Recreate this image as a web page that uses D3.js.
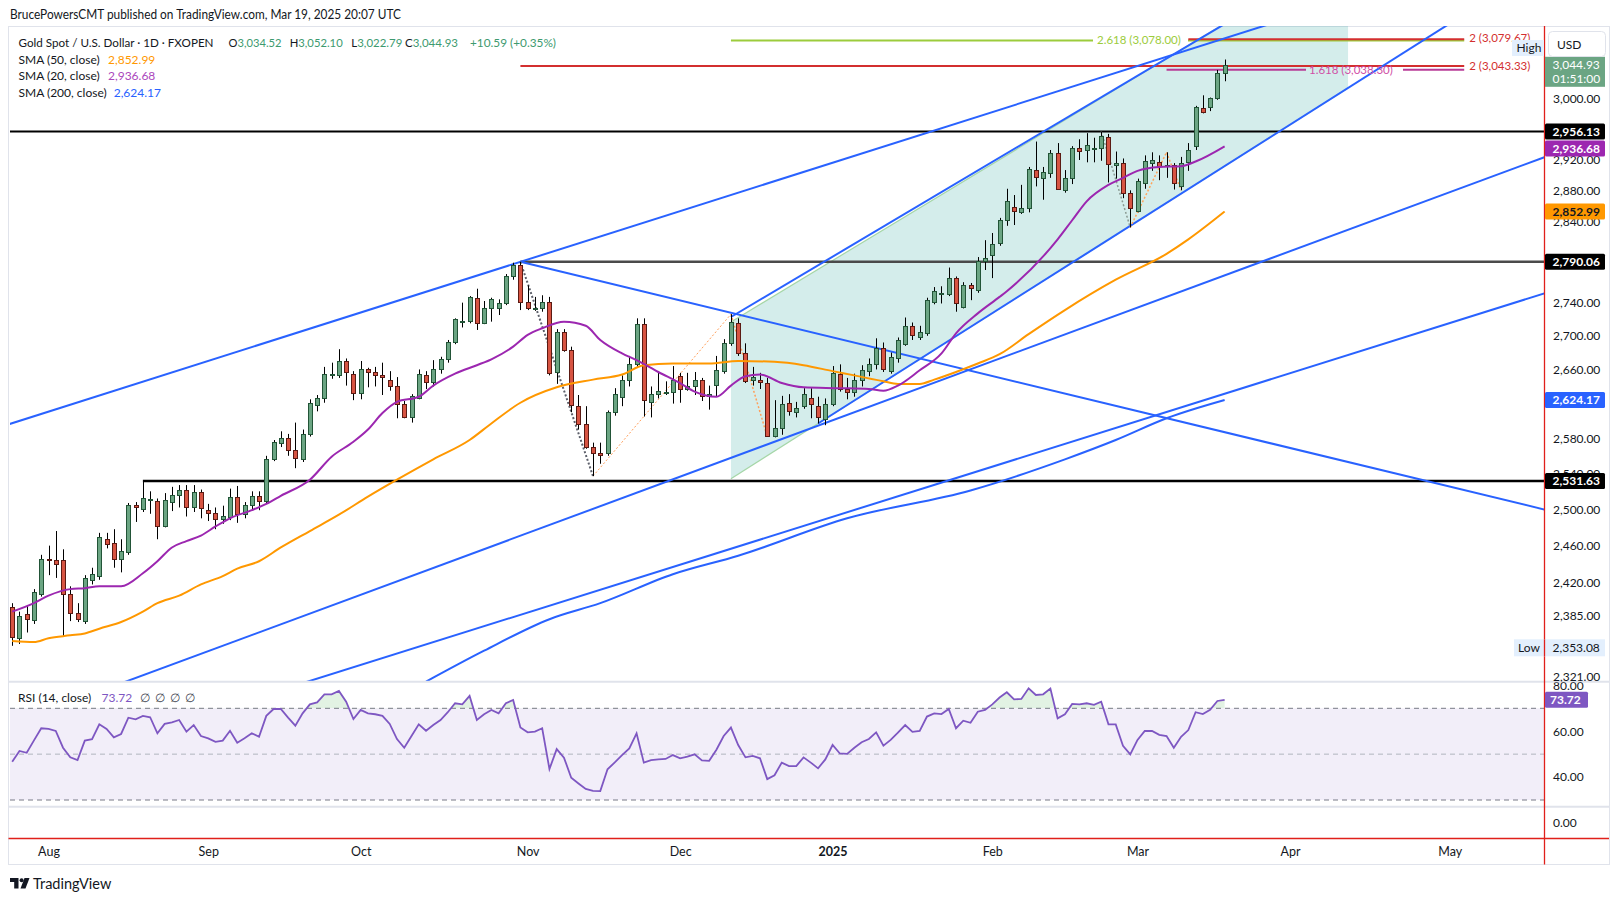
<!DOCTYPE html>
<html><head><meta charset="utf-8">
<script src="https://cdnjs.cloudflare.com/ajax/libs/d3/7.8.5/d3.min.js"></script>
<style>
html,body{margin:0;padding:0;background:#fff;}
svg{display:block;}
text{font-family:Lato,"Liberation Sans",Arial,sans-serif;}
</style></head><body>
<svg id="chart" width="1620" height="901"></svg>
<script>
// ---------------- DATA ----------------
const dates = [
"2024-07-25","2024-07-26","2024-07-29","2024-07-30","2024-07-31",
"2024-08-01","2024-08-02","2024-08-05","2024-08-06","2024-08-07","2024-08-08","2024-08-09","2024-08-12","2024-08-13","2024-08-14","2024-08-15","2024-08-16","2024-08-19","2024-08-20","2024-08-21","2024-08-22","2024-08-23","2024-08-26","2024-08-27","2024-08-28","2024-08-29","2024-08-30",
"2024-09-02","2024-09-03","2024-09-04","2024-09-05","2024-09-06","2024-09-09","2024-09-10","2024-09-11","2024-09-12","2024-09-13","2024-09-16","2024-09-17","2024-09-18","2024-09-19","2024-09-20","2024-09-23","2024-09-24","2024-09-25","2024-09-26","2024-09-27","2024-09-30",
"2024-10-01","2024-10-02","2024-10-03","2024-10-04","2024-10-07","2024-10-08","2024-10-09","2024-10-10","2024-10-11","2024-10-14","2024-10-15","2024-10-16","2024-10-17","2024-10-18","2024-10-21","2024-10-22","2024-10-23","2024-10-24","2024-10-25","2024-10-28","2024-10-29","2024-10-30","2024-10-31",
"2024-11-01","2024-11-04","2024-11-05","2024-11-06","2024-11-07","2024-11-08","2024-11-11","2024-11-12","2024-11-13","2024-11-14","2024-11-15","2024-11-18","2024-11-19","2024-11-20","2024-11-21","2024-11-22","2024-11-25","2024-11-26","2024-11-27","2024-11-28","2024-11-29",
"2024-12-02","2024-12-03","2024-12-04","2024-12-05","2024-12-06","2024-12-09","2024-12-10","2024-12-11","2024-12-12","2024-12-13","2024-12-16","2024-12-17","2024-12-18","2024-12-19","2024-12-20","2024-12-23","2024-12-24","2024-12-26","2024-12-27","2024-12-30","2024-12-31",
"2025-01-02","2025-01-03","2025-01-06","2025-01-07","2025-01-08","2025-01-09","2025-01-10","2025-01-13","2025-01-14","2025-01-15","2025-01-16","2025-01-17","2025-01-20","2025-01-21","2025-01-22","2025-01-23","2025-01-24","2025-01-27","2025-01-28","2025-01-29","2025-01-30","2025-01-31",
"2025-02-03","2025-02-04","2025-02-05","2025-02-06","2025-02-07","2025-02-10","2025-02-11","2025-02-12","2025-02-13","2025-02-14","2025-02-17","2025-02-18","2025-02-19","2025-02-20","2025-02-21","2025-02-24","2025-02-25","2025-02-26","2025-02-27","2025-02-28",
"2025-03-03","2025-03-04","2025-03-05","2025-03-06","2025-03-07","2025-03-10","2025-03-11","2025-03-12","2025-03-13","2025-03-14","2025-03-17","2025-03-18","2025-03-19"
];
const open = [
2394,2361,2386,2380,2408,
2445,2444,2444,2408,2388,2379,2423,2427,2467,2463,2445,2453,2505,2500,2511,2509,2482,2508,2516,2522,2503,2519,
2499,2496,2489,2492,2514,2495,2505,2515,2509,2556,2575,2580,2567,2556,2585,2618,2626,2655,2654,2670,2655,
2632,2661,2657,2654,2648,2640,2619,2604,2627,2653,2645,2660,2672,2692,2718,2718,2746,2715,2734,2734,2739,2773,2786,
2741,2732,2734,2741,2657,2704,2683,2617,2596,2570,2563,2563,2610,2628,2647,2667,2714,2622,2631,2634,2633,
2652,2637,2640,2647,2629,2642,2658,2691,2715,2679,2648,2648,2644,2583,2592,2621,2610,2617,2627,2617,2602,
2620,2655,2637,2634,2647,2658,2666,2685,2658,2673,2690,2712,2699,2703,2741,2752,2751,2770,2735,2761,2755,2791,
2799,2813,2842,2859,2852,2857,2906,2896,2902,2928,2880,2896,2934,2932,2935,2934,2949,2912,2915,2876,
2854,2890,2915,2917,2911,2912,2885,2917,2937,2987,2988,3000,3034.52
];
const high = [
2398,2389,2395,2413,2450,
2460,2476,2456,2416,2398,2428,2436,2474,2474,2478,2467,2507,2508,2531.63,2520,2512,2518,2525,2527,2527,2527,2522,
2506,2502,2504,2523,2526,2508,2520,2520,2560,2578,2588,2585,2598,2590,2625,2630,2663,2668,2684,2673,2658,
2670,2662,2663,2668,2658,2651,2623,2631,2660,2658,2671,2675,2695,2721,2740,2748,2757,2742,2746,2744,2775,2789,2790.06,
2761,2747,2749,2747,2708,2708,2687,2630,2617,2575,2575,2612,2638,2653,2676,2721,2721,2640,2656,2646,2664,
2656,2656,2657,2650,2641,2676,2696,2726,2721,2691,2663,2656,2650,2624,2629,2631,2622,2638,2638,2628,2626,
2664,2666,2650,2655,2665,2673,2697,2692,2680,2698,2722,2716,2712,2746,2759,2760,2783,2772,2765,2764,2796,2817,
2826,2845,2882,2874,2887,2910,2943,2910,2932,2941,2906,2937,2946,2954,2948,2956.13,2953,2930,2921,2880,
2895,2925,2929,2925,2929,2915,2923,2941,2990,3004,3001,3038,3052.10
];
const low = [
2353.08,2355,2367,2376,2405,
2428,2425,2363,2379,2378,2376,2418,2423,2457,2436,2431,2450,2486,2497,2495,2467,2480,2498,2502,2492,2497,2490,
2487,2478,2484,2488,2485,2490,2500,2499,2506,2554,2570,2560,2546,2553,2582,2611,2621,2649,2650,2641,2624,
2625,2639,2640,2630,2635,2603,2603,2598,2625,2637,2640,2655,2668,2690,2710,2715,2707,2714,2717,2725,2737,2768,2731,
2731,2730,2729,2653,2643,2681,2610,2590,2568,2537,2551,2560,2606,2617,2640,2662,2605,2604,2626,2630,2620,
2621,2635,2630,2623,2613,2628,2655,2688,2676,2644,2641,2637,2582,2581,2584,2606,2604,2614,2603,2597,2595,
2617,2634,2625,2628,2640,2652,2660,2657,2655,2668,2688,2695,2695,2700,2738,2739,2748,2729,2733,2743,2752,2780,
2770,2810,2835,2836,2850,2852,2885,2868,2896,2881,2877,2888,2919,2916,2916,2918,2890,2895,2870,2833,
2852,2882,2905,2893,2896,2881,2880,2905,2932,2980,2983,2998,3022.79
];
const close = [
2362,2384,2381,2410,2445,
2444,2440,2408,2388,2381,2425,2429,2469,2462,2446,2454,2505,2502,2512,2511,2482,2510,2516,2522,2502,2519,2501,
2496,2489,2493,2514,2495,2505,2515,2509,2556,2576,2580,2567,2557,2585,2621,2626,2655,2655,2670,2657,2632,
2661,2657,2654,2651,2640,2620,2604,2629,2655,2645,2661,2672,2692,2720,2718,2747,2715,2734,2745,2740,2773,2786,2741,
2734,2734,2741,2656,2704,2683,2618,2596,2570,2563,2561,2610,2631,2648,2667,2714,2624,2631,2635,2634,2648,
2637,2641,2648,2629,2631,2659,2691,2717,2679,2646,2651,2645,2583,2592,2620,2611,2615,2631,2619,2604,2620,
2656,2637,2634,2647,2659,2667,2686,2661,2675,2695,2712,2701,2704,2743,2754,2752,2770,2739,2761,2758,2791,2795,
2812,2842,2866,2854,2858,2908,2897,2904,2928,2882,2896,2934,2931,2938,2935,2950,2914,2915,2877,2857,
2892,2918,2919,2911,2912,2889,2915,2932,2988,2982,3000,3034,3044.93
];
const rsi = [
46.7,51.4,50.6,56,61.3,61,60.1,52.8,48.6,47.4,
55.9,56.5,63,61,57.3,58.8,65.9,65.2,66.7,66.1,
59.1,63.2,63.9,64.9,59.8,62.7,57.9,56.9,55.4,55.9,
60.2,55,56.9,59.1,57.6,66.7,69.7,69.7,65.9,62.4,
67.8,71.7,72.6,76.1,76.1,77.6,72.9,65.3,69.3,67.8,
67.4,66.7,63.2,56.6,52.8,57.9,63,60.2,62.7,64.9,
68.3,72.2,71.7,75.4,64.9,67.4,69.3,67.8,72.2,73.6,
61.6,59.5,59.8,61.3,43.5,52.2,48.5,39.7,37.2,34.8,
34,33.9,43.4,46.4,49.6,52.5,59.1,46.3,47.4,47.7,
47.9,49.6,48.2,48.9,49.9,47.3,47.1,51.9,57.9,61.6,
54,48.6,49.2,48.2,39.1,40.8,46.3,44.8,44.8,48.6,
46.3,43.8,47.7,54,50.3,50.1,52.8,55.2,56.6,59.5,
53.7,56.2,59.4,62.7,59.7,60.1,66.4,67.8,67.5,69.7,
61.3,64.6,63.7,68.5,69.3,71.7,74.7,77,73.9,74.1,
78.7,75.8,76.1,78.6,65.6,67.4,71.9,71.7,72.2,71.5,
72.9,63,63,53.6,49.9,56.2,60.1,60.1,58.4,57.9,
52.8,57.6,60.5,68.3,67.5,69.3,73.2,73.72
];
const sma20 = [
["2024-07-25",2389],["2024-07-30",2398],["2024-08-01",2406],["2024-08-06",2413],["2024-08-08",2414],["2024-08-12",2416],["2024-08-15",2416],["2024-08-20",2430],["2024-08-22",2443],["2024-08-26",2458],["2024-08-28",2465],["2024-08-30",2471],["2024-09-03",2481],["2024-09-05",2490],["2024-09-10",2499],["2024-09-12",2506],["2024-09-16",2515],["2024-09-20",2533],["2024-09-25",2559],["2024-09-30",2576],["2024-10-02",2590],["2024-10-04",2609],["2024-10-08",2622],["2024-10-11",2628],["2024-10-15",2641],["2024-10-18",2655],["2024-10-23",2665],["2024-10-25",2672],["2024-10-30",2687],["2024-11-01",2701],["2024-11-05",2709],["2024-11-08",2717],["2024-11-13",2712],["2024-11-15",2695],["2024-11-20",2679],["2024-11-22",2671],["2024-11-27",2657],["2024-12-02",2644],["2024-12-04",2634],["2024-12-09",2628],["2024-12-11",2641],["2024-12-13",2652],["2024-12-17",2654],["2024-12-20",2644],["2024-12-26",2639],["2025-01-03",2638],["2025-01-09",2637],["2025-01-13",2635],["2025-01-15",2641],["2025-01-20",2659],["2025-01-23",2679],["2025-01-27",2703],["2025-01-30",2727],["2025-02-04",2747],["2025-02-05",2754],["2025-02-14",2818],["2025-02-18",2842],["2025-02-20",2866],["2025-02-25",2887],["2025-02-27",2896],["2025-03-03",2905],["2025-03-06",2910],["2025-03-11",2911],["2025-03-13",2917],["2025-03-19",2936.68]
];
const sma50 = [
["2024-07-25",2358],["2024-07-30",2357],["2024-08-01",2361],["2024-08-06",2364],["2024-08-08",2366],["2024-08-12",2371],["2024-08-15",2378],["2024-08-20",2389],["2024-08-22",2398],["2024-08-27",2406],["2024-08-30",2418],["2024-09-04",2427],["2024-09-06",2435],["2024-09-11",2443],["2024-09-16",2458],["2024-09-20",2476],["2024-09-26",2494],["2024-10-02",2514],["2024-10-08",2533],["2024-10-15",2556],["2024-10-22",2578],["2024-10-25",2597],["2024-10-31",2621],["2024-11-07",2639],["2024-11-14",2648],["2024-11-20",2654],["2024-11-25",2665],["2024-11-29",2667],["2024-12-06",2667],["2024-12-12",2670],["2024-12-19",2669],["2024-12-26",2665],["2025-01-02",2658],["2025-01-07",2653],["2025-01-13",2646],["2025-01-15",2643],["2025-01-20",2643],["2025-01-22",2648],["2025-01-27",2657],["2025-01-30",2667],["2025-02-04",2678],["2025-02-10",2702],["2025-02-17",2731],["2025-02-26",2768],["2025-03-07",2800],["2025-03-12",2818],["2025-03-19",2852.99]
];
const sma200 = [
["2024-10-14",2316],["2024-10-24",2348],["2024-11-06",2381],["2024-11-15",2398],["2024-11-29",2429],["2024-12-12",2449],["2025-01-06",2490],["2025-01-29",2521],["2025-02-17",2556],["2025-02-26",2578],["2025-03-07",2603],["2025-03-19",2624.17]
];
const priceTicks = [3000,2960,2920,2880,2840,2740,2700,2660,2580,2540,2500,2460,2420,2385,2321];
const rsiTicks = [80,60,40];
const monthTicks = [["2024-08-01","Aug"],["2024-09-02","Sep"],["2024-10-01","Oct"],["2024-11-01","Nov"],["2024-12-02","Dec"],["2025-01-02","2025"],["2025-02-03","Feb"],["2025-03-03","Mar"],["2025-04-01","Apr"],["2025-05-01","May"]];
const holidays = ["2024-12-25","2025-01-01"];
const levels = {support:2956.13, octHigh:2790.06, augHigh:2531.63, lowest:2353.08};
const sma20Last = 2936.68, sma50Last = 2852.99, sma200Last = 2624.17, rsiLast = 73.72;
const fib2618 = 3078.00, ext2a = 3079.67, ext2b = 3043.33, fib1618 = 3038.30;

// ---------------- HELPERS ----------------
function barIndex(ds){
  const base = Date.UTC(2024,7,1);
  const [Y,M,D] = ds.split("-").map(Number);
  const target = Date.UTC(Y,M-1,D);
  let n=0, cur=base; const step = target>=base?1:-1;
  while(cur!==target){
    cur += step*86400000;
    const dd = new Date(cur); const wd = dd.getUTCDay(); const s = dd.toISOString().slice(0,10);
    if(wd!==0 && wd!==6 && !holidays.includes(s)) n+=step;
  }
  return n;
}
const idx = dates.map(barIndex);
const pane = {left:10,right:1544,top:26,bottom:681.7};
const rp = {top:681.7,bottom:806.7};
const x = d3.scaleLinear().domain([-5.303,205.99]).range([pane.left,pane.right]);
const y = d3.scaleLog().domain([2315.9,3097.8]).range([pane.bottom,pane.top]);
const yr = d3.scaleLinear().domain([30,70]).range([800,708.3]);
const FF = "Lato,'Liberation Sans',Arial,sans-serif";

const svg = d3.select("#chart");
svg.append("rect").attr("width",1620).attr("height",901).attr("fill","#fff");
const defs = svg.append("defs");
defs.append("clipPath").attr("id","cMain").append("rect").attr("x",pane.left).attr("y",pane.top).attr("width",pane.right-pane.left).attr("height",pane.bottom-pane.top);
defs.append("clipPath").attr("id","cRsi").append("rect").attr("x",pane.left).attr("y",rp.top).attr("width",pane.right-pane.left).attr("height",rp.bottom-rp.top);
defs.append("clipPath").attr("id","cOB").append("rect").attr("x",pane.left).attr("y",rp.top).attr("width",pane.right-pane.left).attr("height",yr(70)-rp.top);
defs.append("clipPath").attr("id","cAxMain").append("rect").attr("x",1545).attr("y",pane.top).attr("width",70).attr("height",pane.bottom-pane.top);
defs.append("clipPath").attr("id","cAxRsi").append("rect").attr("x",1545).attr("y",rp.top+0.5).attr("width",70).attr("height",rp.bottom-rp.top);

// title
svg.append("text").attr("x",10).attr("y",19).attr("font-size",12.5).attr("fill","#131722")
  .attr("textLength",391).attr("lengthAdjust","spacingAndGlyphs")
  .text("BrucePowersCMT published on TradingView.com, Mar 19, 2025 20:07 UTC");

// frame
svg.append("rect").attr("x",8.5).attr("y",26.5).attr("width",1601).attr("height",838).attr("fill","none").attr("stroke","#e0e3eb");

const main = svg.append("g").attr("clip-path","url(#cMain)");
const px = d => x(barIndex(d));
function seg(a,b,opts){
  const x1=px(a[0]), y1=y(a[1]), x2=px(b[0]), y2=y(b[1]);
  const k=(y2-y1)/(x2-x1);
  const xa = opts.left ? pane.left-50 : x1;
  const xb = opts.right ? pane.right+50 : x2;
  return [[xa,y1+k*(xa-x1)],[xb,y1+k*(xb-x1)]];
}

// channel fill (parallel channel)
const chTop = [["2024-12-11",2716.6],["2025-03-03",3029.6]];
const chBot = [["2024-12-30",2597],["2025-02-28",2835]];
const chStart = "2024-12-11", chEnd = "2025-04-11";
function atX(line, xx){ const x1=px(line[0][0]),y1=y(line[0][1]),x2=px(line[1][0]),y2=y(line[1][1]); return y1+(y2-y1)/(x2-x1)*(xx-x1);}
const xs0 = px(chStart), xs1 = px(chEnd);
main.append("path").attr("d",d3.line()([[xs0,atX(chTop,xs0)],[xs1,atX(chTop,xs1)],[xs1,atX(chBot,xs1)],[xs0,atX(chBot,xs0)]])+"Z")
  .attr("fill","rgba(38,166,154,0.2)");
[chTop,chBot].forEach(l=>main.append("line").attr("x1",xs0).attr("y1",atX(l,xs0)).attr("x2",xs1).attr("y2",atX(l,xs1))
  .attr("stroke","#a5d6a7").attr("stroke-width",1.2));

// horizontal levels
function hline(p, fromX, toX, color, w){
  main.append("line").attr("x1",fromX).attr("x2",toX).attr("y1",y(p)).attr("y2",y(p)).attr("stroke",color).attr("stroke-width",w);
}
hline(levels.support, pane.left, pane.right, "#000", 2);
hline(levels.octHigh, px("2024-10-31"), pane.right, "#4a4a4a", 2.5);
hline(levels.augHigh, px("2024-08-20"), pane.right, "#000", 2.5);

// fib / extension lines
const endX = px("2025-05-05");
hline(fib2618, px("2024-12-11"), 1093, "#9ccc3c", 2);
hline(fib2618, 1188, endX, "#9ccc3c", 2);
hline(ext2a, px("2025-03-12"), endX, "#d32f2f", 2);
hline(ext2b, px("2024-10-31"), endX, "#d32f2f", 2);
hline(fib1618, px("2025-03-07"), 1306, "#b83b97", 2);
hline(fib1618, 1403, endX, "#b83b97", 2);

// trend lines
const trend = [
  {a:["2024-07-25",2597.4], b:["2024-10-31",2790.06], left:true, right:true},
  {a:["2024-09-12",2370], b:["2025-03-03",2734], left:true, right:true},
  {a:["2024-12-19",2471.6], b:["2025-03-19",2631.5], left:true, right:true},
  {a:["2024-10-31",2790.06], b:["2025-03-19",2587], right:true},
  {a:["2024-12-11",2722.6], b:["2025-03-19",3100.5], right:true},
  {a:["2024-12-30",2597], b:["2025-02-28",2835], right:true}
];
trend.forEach(t=>{
  const p = seg(t.a,t.b,t);
  main.append("line").attr("x1",p[0][0]).attr("y1",p[0][1]).attr("x2",p[1][0]).attr("y2",p[1][1])
    .attr("stroke","#2962ff").attr("stroke-width",2);
});

// dotted swing lines
const swings = [
  {pts:[["2024-10-31",2790.06],["2024-11-14",2537]], c:"#5d606b", w:2, dash:"2,2"},
  {pts:[["2024-11-14",2537],["2024-12-11",2726]], c:"#ff9f5a", w:1, dash:"2,2"},
  {pts:[["2024-12-11",2726],["2024-12-18",2582]], c:"#ff9f5a", w:1.5, dash:"2,2"},
  {pts:[["2025-02-24",2956.13],["2025-02-28",2833]], c:"#8a9a92", w:1.5, dash:"2,2"},
  {pts:[["2025-02-28",2833],["2025-03-07",2929]], c:"#ffa45c", w:1.5, dash:"2,2"},
  {pts:[["2025-03-07",2929],["2025-03-11",2880]], c:"#ffa45c", w:1.5, dash:"2,2"}
];
swings.forEach(s=>{
  main.append("path").attr("d",d3.line()(s.pts.map(p=>[px(p[0]),y(p[1])])))
    .attr("fill","none").attr("stroke",s.c).attr("stroke-width",s.w).attr("stroke-dasharray",s.dash);
});

// candles
const cd = dates.map((d,i)=>({i:idx[i],o:open[i],h:high[i],l:low[i],c:close[i]}));
const cg = main.append("g");
cg.selectAll("line").data(cd).join("line")
  .attr("x1",d=>Math.round(x(d.i))+0.5).attr("x2",d=>Math.round(x(d.i))+0.5)
  .attr("y1",d=>y(d.h)).attr("y2",d=>y(d.l)).attr("stroke","#000").attr("stroke-width",1);
cg.selectAll("rect").data(cd).join("rect")
  .attr("x",d=>Math.round(x(d.i))-1.5).attr("width",4)
  .attr("y",d=>Math.round(y(Math.max(d.o,d.c)))+0.5)
  .attr("height",d=>Math.max(1,Math.round(y(Math.min(d.o,d.c)))-Math.round(y(Math.max(d.o,d.c)))))
  .attr("fill",d=>d.c>=d.o?"#6ba583":"#d75442")
  .attr("stroke",d=>d.c>=d.o?"#225437":"#5b1a13").attr("stroke-width",1);

// SMAs
const smaLine = d3.line().x(d=>px(d[0])).y(d=>y(d[1])).curve(d3.curveMonotoneX);
main.append("path").attr("d",smaLine(sma200)).attr("fill","none").attr("stroke","#2962ff").attr("stroke-width",2);
main.append("path").attr("d",smaLine(sma50)).attr("fill","none").attr("stroke","#ff9800").attr("stroke-width",2);
main.append("path").attr("d",smaLine(sma20)).attr("fill","none").attr("stroke","#9c27b0").attr("stroke-width",2);

// fib labels
const lab = svg.append("g").attr("font-size",11.5);
lab.append("text").attr("x",1097).attr("y",y(fib2618)+4).attr("fill","#9ccc3c").text("2.618 (3,078.00)");
lab.append("text").attr("x",1309).attr("y",y(fib1618)+4).attr("fill","#d04fa6").text("1.618 (3,038.30)");
lab.append("text").attr("x",endX+5).attr("y",y(ext2a)+3).attr("fill","#d32f2f").text("2 (3,079.67)");
lab.append("text").attr("x",endX+5).attr("y",y(ext2b)+4).attr("fill","#d32f2f").text("2 (3,043.33)");

// legend
const lg = svg.append("g").attr("font-size",12).attr("fill","#131722");
lg.append("text").attr("x",18.5).attr("y",46.5).attr("textLength",195).attr("lengthAdjust","spacingAndGlyphs").text("Gold Spot / U.S. Dollar · 1D · FXOPEN");
const upc = "#3d9a6f";
[["O",open[open.length-1],228.5],["H",high[high.length-1],289.7],["L",low[low.length-1],351.3],["C",close[close.length-1],405]].forEach(([k,v,xx])=>{
  const t = lg.append("text").attr("x",xx).attr("y",46.5).attr("font-size",11.5).attr("textLength",k==="L"?51:53).attr("lengthAdjust","spacingAndGlyphs");
  t.append("tspan").text(k);
  t.append("tspan").attr("fill",upc).text(d3.format(",.2f")(v));
});
lg.append("text").attr("x",470).attr("y",46.5).attr("fill",upc).attr("textLength",86).attr("lengthAdjust","spacingAndGlyphs").text("+10.59 (+0.35%)");
[["SMA (50, close)",sma50Last,"#ff9800",63.5,108],["SMA (20, close)",sma20Last,"#ab47bc",80,108],["SMA (200, close)",sma200Last,"#2962ff",96.5,113.7]].forEach(([n,v,c,yy,vx])=>{
  lg.append("text").attr("x",18.5).attr("y",yy).text(n);
  lg.append("text").attr("x",vx).attr("y",yy).attr("fill",c).text(d3.format(",.2f")(v));
});

// ---------------- RSI PANE ----------------
const rg = svg.append("g").attr("clip-path","url(#cRsi)");
rg.append("rect").attr("x",pane.left).attr("width",pane.right-pane.left).attr("y",yr(70)).attr("height",yr(30)-yr(70)).attr("fill","rgba(126,87,194,0.1)");
[[70,"#787b86"],[50,"#b2b5be"],[30,"#787b86"]].forEach(([v,c])=>{
  rg.append("line").attr("x1",pane.left).attr("x2",pane.right).attr("y1",yr(v)).attr("y2",yr(v)).attr("stroke",c).attr("stroke-dasharray","5,4");
});
const rd = rsi.map((v,i)=>[x(idx[i]),v]);
rg.append("path").attr("clip-path","url(#cOB)")
  .attr("d",d3.area().x(d=>d[0]).y0(yr(70)).y1(d=>yr(d[1]))(rd)).attr("fill","rgba(76,175,80,0.16)");
rg.append("path").attr("d",d3.line().x(d=>d[0]).y(d=>yr(d[1]))(rd)).attr("fill","none").attr("stroke","#7e57c2").attr("stroke-width",1.8);
const rl = svg.append("text").attr("x",18).attr("y",701.5).attr("font-size",12).attr("fill","#131722");
rl.append("tspan").text("RSI (14, close)");
rl.append("tspan").attr("x",101.5).attr("fill","#7e57c2").text(d3.format(".2f")(rsiLast));
["∅","∅","∅","∅"].forEach((s,k)=>rl.append("tspan").attr("x",140+k*15).attr("fill","#434651").text(s));

// separators / red border lines
svg.append("line").attr("x1",8.5).attr("x2",1609.5).attr("y1",pane.bottom).attr("y2",pane.bottom).attr("stroke","#e0e3eb").attr("stroke-width",2);
svg.append("line").attr("x1",8.5).attr("x2",1609.5).attr("y1",rp.bottom).attr("y2",rp.bottom).attr("stroke","#e0e3eb").attr("stroke-width",2);
svg.append("line").attr("x1",8.5).attr("x2",1609).attr("y1",838.5).attr("y2",838.5).attr("stroke","#e0201b").attr("stroke-width",1.3);
svg.append("line").attr("x1",1544.5).attr("x2",1544.5).attr("y1",26).attr("y2",864.5).attr("stroke","#e0201b").attr("stroke-width",1.3);

// ---------------- AXES ----------------
const axMain = svg.append("g").attr("clip-path","url(#cAxMain)").append("g").attr("transform","translate(1544,0)")
  .call(d3.axisRight(y).tickValues(priceTicks).tickFormat(d3.format(",.2f")).tickSize(0).tickPadding(9));
axMain.select(".domain").remove();
axMain.selectAll("text").attr("font-size",12).attr("fill","#131722").attr("font-family",FF);

const axR = svg.append("g").attr("clip-path","url(#cAxRsi)").append("g").attr("transform","translate(1544,0)")
  .call(d3.axisRight(yr).tickValues(rsiTicks).tickFormat(d3.format(".2f")).tickSize(0).tickPadding(9));
axR.select(".domain").remove();
axR.selectAll("text").attr("font-size",12).attr("fill","#131722").attr("font-family",FF);
svg.append("text").attr("x",1553).attr("y",827).attr("font-size",12).attr("fill","#131722").text("0.00");

const axT = svg.append("g").attr("transform","translate(0,838)")
  .call(d3.axisBottom(x).tickValues(monthTicks.map(m=>barIndex(m[0]))).tickFormat((d,i)=>monthTicks[i][1]).tickSize(0).tickPadding(9));
axT.select(".domain").remove();
axT.selectAll("text").attr("font-size",12.5).attr("fill","#131722").attr("font-family",FF)
  .attr("font-weight",(d,i)=>monthTicks[i][1]==="2025"?"bold":"normal");

// price labels on axis
const boxes = [
  {p:levels.support,bg:"#000",fg:"#fff"},
  {p:sma20Last,bg:"#9c27b0",fg:"#fff"},
  {p:sma50Last,bg:"#ff9800",fg:"#131722"},
  {p:levels.octHigh,bg:"#000",fg:"#fff"},
  {p:sma200Last,bg:"#2962ff",fg:"#fff"},
  {p:levels.augHigh,bg:"#000",fg:"#fff"}
].map(b=>({...b,cy:y(b.p)})).sort((a,b)=>a.cy-b.cy);
for(let k=1;k<boxes.length;k++){ if(boxes[k].cy<boxes[k-1].cy+17) boxes[k].cy=boxes[k-1].cy+17; }
const bl = svg.append("g");
boxes.forEach(b=>{
  bl.append("rect").attr("x",1545).attr("y",b.cy-8).attr("width",60).attr("height",16).attr("rx",1.5).attr("fill",b.bg);
  bl.append("text").attr("x",1552.5).attr("y",b.cy+4.3).attr("font-size",12).attr("font-weight","bold").attr("fill",b.fg).text(d3.format(",.2f")(b.p));
});
// last price
const lp = close[close.length-1];
bl.append("rect").attr("x",1545).attr("y",y(lp)-8).attr("width",60).attr("height",30).attr("fill","#6ba583");
bl.append("text").attr("x",1552.5).attr("y",y(lp)+4.3).attr("font-size",12).attr("fill","#fff").text(d3.format(",.2f")(lp));
bl.append("text").attr("x",1552.5).attr("y",y(lp)+18).attr("font-size",12).attr("fill","#fff").text("01:51:00");
// USD box
bl.append("rect").attr("x",1548.5).attr("y",31.5).attr("width",57).attr("height",25).attr("rx",4).attr("fill","#fff").attr("stroke","#e0e3eb");
bl.append("text").attr("x",1557).attr("y",48.5).attr("font-size",12).attr("fill","#131722").text("USD");
// High tag
bl.append("rect").attr("x",1512).attr("y",40).attr("width",32).attr("height",16).attr("fill","#e3effd");
bl.append("text").attr("x",1516.5).attr("y",52.3).attr("font-size",12).attr("fill","#131722").text("High");
// Low tag
const ly = y(levels.lowest)+2;
bl.append("rect").attr("x",1514).attr("y",ly-8.5).attr("width",91).attr("height",17).attr("fill","#e3effd");
bl.append("line").attr("x1",1544.5).attr("x2",1544.5).attr("y1",ly-8.5).attr("y2",ly+8.5).attr("stroke","#e0201b").attr("stroke-width",1.3);
bl.append("text").attr("x",1518).attr("y",ly+4.3).attr("font-size",12).attr("fill","#131722").text("Low");
bl.append("text").attr("x",1552.5).attr("y",ly+4.3).attr("font-size",12).attr("fill","#131722").text(d3.format(",.2f")(levels.lowest));
// RSI tag
bl.append("rect").attr("x",1545).attr("y",yr(rsiLast)-8).attr("width",43).attr("height",16).attr("rx",1.5).attr("fill","#7e57c2");
bl.append("text").attr("x",1550).attr("y",yr(rsiLast)+4.3).attr("font-size",12).attr("font-weight","bold").attr("fill","#fff").text(d3.format(".2f")(rsiLast));

// TradingView logo
const tv = svg.append("g").attr("fill","#131722");
tv.append("path").attr("d","M10 878 H18.5 V888.5 H14.2 V882 H10 Z");
tv.append("circle").attr("cx",21.6).attr("cy",880.2).attr("r",2);
tv.append("path").attr("d","M24.5 878 H29.5 L25.5 888.5 H20.5 Z");
svg.append("text").attr("x",33).attr("y",888.5).attr("font-size",14.5).attr("fill","#131722").text("TradingView");
</script>
</body></html>
